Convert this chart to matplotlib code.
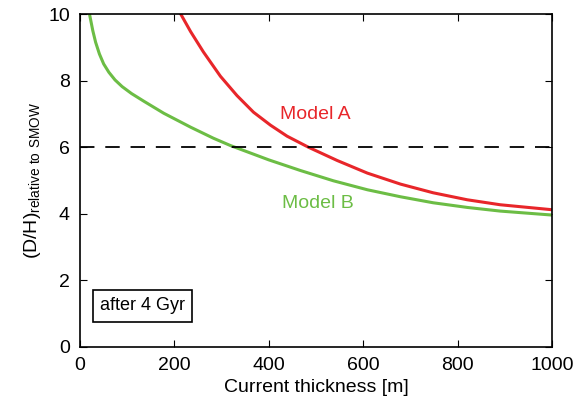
import matplotlib.pyplot as plt
import numpy as np

plt.rcParams['font.family'] = ['Liberation Sans', 'DejaVu Sans']
plt.rcParams['mathtext.fontset'] = 'custom'
plt.rcParams['mathtext.rm'] = 'Liberation Sans'

# values
model_a_x = [214, 235, 262, 298, 333, 368, 404, 439, 484, 545, 609, 679, 748, 820, 890, 1000]
model_a_y = [10.0, 9.47, 8.86, 8.13, 7.55, 7.05, 6.66, 6.33, 6.0, 5.6, 5.22, 4.89, 4.63, 4.42, 4.27, 4.12]

model_b_x = [21, 28, 34, 42, 51, 62, 75, 90, 110, 136, 178, 235, 283, 319, 400, 467, 537, 609, 679, 748, 820, 890, 1000]
model_b_y = [10.0, 9.5, 9.15, 8.8, 8.5, 8.25, 8.02, 7.82, 7.61, 7.38, 7.02, 6.60, 6.27, 6.05, 5.62, 5.30, 4.99, 4.72, 4.51, 4.33, 4.19, 4.08, 3.96]

threshold = 6

fig, ax = plt.subplots(figsize=(5.85, 4.12), dpi=100)
fig.subplots_adjust(left=0.136, right=0.944, top=0.966, bottom=0.158)

ax.plot(model_a_x, model_a_y, color='#e8262a', lw=2.2)
ax.plot(model_b_x, model_b_y, color='#6cbd45', lw=2.2)
ax.axhline(threshold, color='black', lw=1.3, dashes=(8, 6))

ax.text(425, 6.97, 'Model A', color='#e8262a', fontsize=14, va='center')
ax.text(428, 4.32, 'Model B', color='#6cbd45', fontsize=14, va='center')
ax.text(133, 1.23, 'after 4 Gyr', fontsize=13, ha='center', va='center',
        bbox=dict(boxstyle='square,pad=0.4', fc='white', ec='black', lw=1.2))

ax.set_xlim(0, 1000)
ax.set_ylim(0, 10)
ax.set_xticks(np.arange(0, 1001, 200))
ax.set_yticks(np.arange(0, 11, 2))
ax.tick_params(direction='in', top=True, right=True, labelsize=14, length=5, pad=7)
for s in ax.spines.values():
    s.set_linewidth(1.2)

ax.set_xlabel('Current thickness [m]', fontsize=14)
ax.set_ylabel(r'(D/H)$_{\rm relative\ to\ SMOW}$', fontsize=14)

plt.savefig('out.png')
